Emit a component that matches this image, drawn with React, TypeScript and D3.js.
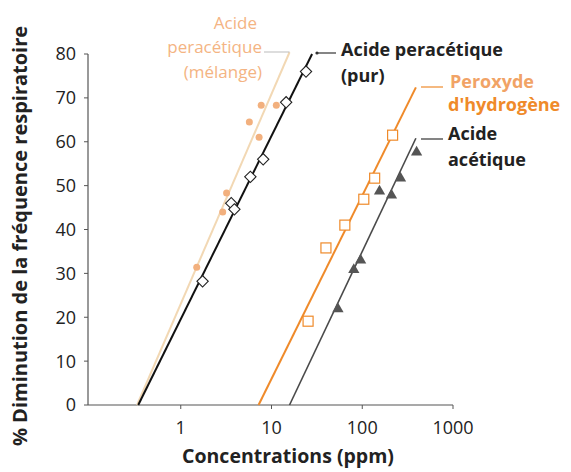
import React from 'react';
import * as d3 from 'd3';

// points: [ppm, % diminution]
const pur = [[1.74, 28.2], [3.6, 46], [3.9, 44.6], [5.85, 52], [8.1, 56], [14.5, 69], [24, 76]];
const melange = [[1.5, 31.4], [2.9, 44], [3.2, 48.3], [5.7, 64.5], [7.3, 61], [7.7, 68.3], [11.3, 68.3]];
const peroxyde = [[25.3, 19.1], [39.8, 35.8], [64.3, 41], [104, 46.9], [137, 51.7], [216, 61.5]];
const acetique = [[54, 21.9], [80.7, 30.8], [96, 33], [155, 48.7], [210, 47.8], [264, 51.7], [397, 57.6]];

// fitted lines (two ends each)
const purLine = [[0.34, 0], [28, 80]];
const melangeLine = [[0.33, 0], [15.8, 80.4]];
const peroxydeLine = [[7.2, 0], [390, 72.4]];
const acetiqueLine = [[15.8, 0], [390, 60.8]];

const xTicks = [1, 10, 100, 1000];
const yTicks = [0, 10, 20, 30, 40, 50, 60, 70, 80];

const font = '"Open Sans", Lato, sans-serif';

export default function App() {
  const x = d3.scaleLog().domain([0.1, 1000]).range([90, 453]);
  const y = d3.scaleLinear().domain([0, 80]).range([405, 54]);
  const line = d3.line<number[]>().x(d => x(d[0])).y(d => y(d[1]));

  const axisColor = '#555';

  return (
    <svg width={571} height={472} style={{ position: 'absolute', left: 0, top: 0, background: '#fff' }} fontFamily={font}>
      {/* axes */}
      <line x1={88} x2={88} y1={y(80)} y2={y(0)} stroke={axisColor} strokeWidth={1.2} />
      <line x1={88} x2={x(1000)} y1={y(0)} y2={y(0)} stroke={axisColor} strokeWidth={1.2} />
      {yTicks.map(t => (
        <g key={t}>
          <line x1={84} x2={88} y1={y(t)} y2={y(t)} stroke={axisColor} />
          <text x={76} y={y(t)} dy="0.36em" textAnchor="end" fontSize={18} fill="#222">{t}</text>
        </g>
      ))}
      {xTicks.map(t => (
        <g key={t}>
          <line x1={x(t)} x2={x(t)} y1={y(0)} y2={y(0) + 4} stroke={axisColor} />
          <text x={x(t)} y={434} textAnchor="middle" fontSize={18} fill="#222">{t}</text>
        </g>
      ))}
      <text x={288} y={463} textAnchor="middle" fontSize={19.5} fontWeight="bold" fill="#222">Concentrations (ppm)</text>
      <text transform="translate(27,236) rotate(-90)" textAnchor="middle" fontSize={20} fontWeight="bold" fill="#222">
        % Diminution de la fréquence respiratoire
      </text>

      {/* fitted lines */}
      <path d={line(melangeLine as any) || ''} stroke="#f2d8b4" strokeWidth={2} fill="none" />
      <path d={line(purLine as any) || ''} stroke="#111" strokeWidth={2} fill="none" />
      <path d={line(peroxydeLine as any) || ''} stroke="#ef8a2a" strokeWidth={2} fill="none" />
      <path d={line(acetiqueLine as any) || ''} stroke="#4a4a4a" strokeWidth={1.6} fill="none" />

      {/* markers */}
      {melange.map((d, i) => (
        <circle key={i} cx={x(d[0])} cy={y(d[1])} r={3.5} fill="#f2b07e" />
      ))}
      {pur.map((d, i) => (
        <rect key={i} x={-4} y={-4} width={8} height={8} fill="#fff" stroke="#222" strokeWidth={1.1}
          transform={`translate(${x(d[0])},${y(d[1])}) rotate(45)`} />
      ))}
      {peroxyde.map((d, i) => (
        <rect key={i} x={x(d[0]) - 5} y={y(d[1]) - 5} width={10} height={10} fill="#fff" stroke="#ef8a2a" strokeWidth={1.2} />
      ))}
      {acetique.map((d, i) => (
        <path key={i} d={d3.symbol(d3.symbolTriangle, 55)() || ''} fill="#555"
          transform={`translate(${x(d[0])},${y(d[1])})`} />
      ))}

      {/* labels */}
      <g fontSize={17} fill="#f4b483" textAnchor="end">
        <text x={257} y={29}>Acide</text>
        <text x={262} y={53}>peracétique</text>
        <text x={262} y={78}>(mélange)</text>
      </g>
      <line x1={264} x2={x(melangeLine[1][0])} y1={52} y2={52} stroke="#aaa" strokeWidth={0.8} />

      <line x1={318} x2={336} y1={53} y2={53} stroke="#333" strokeWidth={1.2} />
      <circle cx={317} cy={53} r={1.6} fill="#333" />
      <g fontSize={18} fontWeight="bold" fill="#222">
        <text x={341} y={56}>Acide peracétique</text>
        <text x={341} y={82}>(pur)</text>
      </g>

      <line x1={421} x2={443} y1={87} y2={87} stroke="#ef8a2a" strokeWidth={1.2} />
      <g fontSize={18} fontWeight="bold">
        <text x={450} y={88} fill="#f1a366">Peroxyde</text>
        <text x={448} y={111} fill="#ef8a2a">d'hydrogène</text>
      </g>

      <line x1={421} x2={443} y1={139} y2={139} stroke="#333" strokeWidth={1.2} />
      <g fontSize={18} fontWeight="bold" fill="#222">
        <text x={448} y={140}>Acide</text>
        <text x={448} y={166}>acétique</text>
      </g>
    </svg>
  );
}
